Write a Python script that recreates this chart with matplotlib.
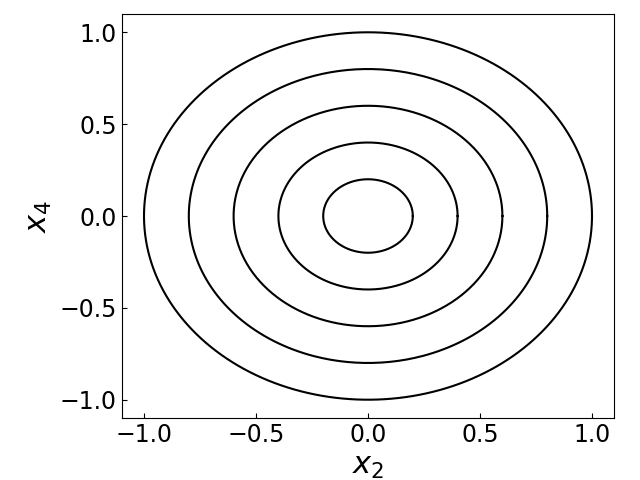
import numpy as np
import matplotlib
matplotlib.use("Agg")
import matplotlib.pyplot as plt

radii = [0.2, 0.4, 0.6, 0.8, 1.0]
ticks = [-1.0, -0.5, 0.0, 0.5, 1.0]

theta = np.linspace(0, 2 * np.pi, 400)

fig, ax = plt.subplots(figsize=(6.4, 4.8), dpi=100)
for r in radii:
    ax.plot(r * np.cos(theta), r * np.sin(theta), color='black', linewidth=1.5)

ax.set_xlim(-1.1, 1.1)
ax.set_ylim(-1.1, 1.1)
ax.set_xticks(ticks)
ax.set_yticks(ticks)
ax.tick_params(direction='in', labelsize=17)
ax.set_xlabel("$x_2$", fontsize=22)
ax.set_ylabel("$x_4$", fontsize=22)
plt.subplots_adjust(left=0.19, right=0.96, top=0.971, bottom=0.129)
fig.savefig("out.png")
